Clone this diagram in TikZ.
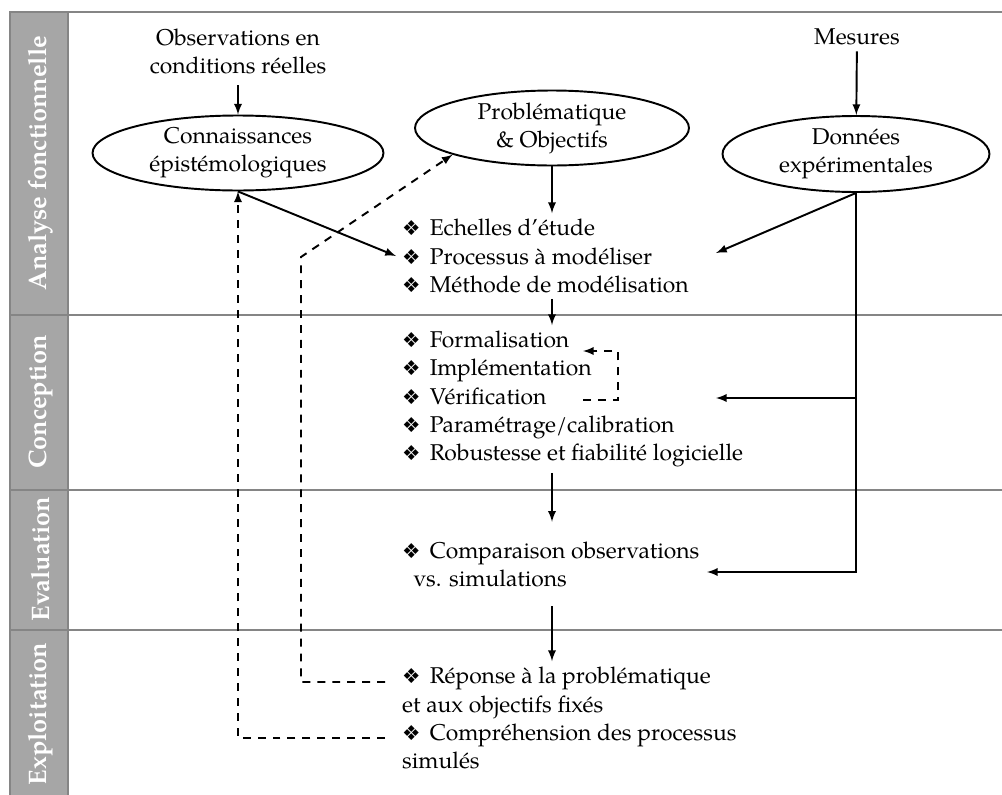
\documentclass[tikz,border=0pt]{standalone}
\usepackage{fontspec}
\setmainfont{texgyrepagella}[Extension=.otf,UprightFont=*-regular,BoldFont=*-bold,ItalicFont=*-italic,BoldItalicFont=*-bolditalic]
\newfontfamily\dingfont{DejaVu Sans}[Scale=0.9]
\usetikzlibrary{shapes.geometric}
\newcommand*{\itm}{{\dingfont ❖}\hspace{0.4em}}
\definecolor{bandgray}{HTML}{A6A6A6}
\definecolor{linegray}{HTML}{858585}

\begin{document}
\begin{tikzpicture}[x=0.02cm,y=-0.02cm,>=latex,
    font=\fontsize{13}{16}\selectfont,
    phase/.style={rotate=90,text=white,font=\fontsize{14.4}{16}\selectfont\bfseries},
    bulle/.style={ellipse,draw,line width=1.1pt,inner sep=0pt,align=center},
    liste/.style={anchor=west,align=left},
    fleche/.style={->,line width=1.1pt},
    retour/.style={->,line width=1.1pt,dash pattern=on 4.5pt off 4pt}]
    \useasboundingbox (0,0) rectangle (1002,795);

    % bandeau des phases
    \fill[bandgray] (10,12) rectangle (68,795);
    \draw[linegray,line width=1.1pt] (10,795) -- (10,12) -- (68,12) -- (68,795);
    \draw[linegray,line width=1.1pt] (68,12) -- (1002,12);
    \foreach \y in {315,490,630}
        \draw[linegray,line width=1.1pt] (10,\y) -- (1002,\y);

    \node[phase] (af) at (41,163) {Analyse fonctionnelle};
    \node[phase] (co) at (41,402) {Conception};
    \node[phase] (ev) at (41,559) {Evaluation};
    \node[phase] (ex) at (41,714) {Exploitation};

    % entrees
    \node[align=center] (obs) at (238,51) {Observations en\\conditions réelles};
    \node (mes) at (857,37) {Mesures};

    \node[bulle,minimum width=5.82cm,minimum height=1.5cm] (conn) at (238,153) {Connaissances\\épistémologiques};
    \node[bulle,minimum width=5.48cm,minimum height=1.5cm] (prob) at (552,128) {Problématique\\\& Objectifs};
    \node[bulle,minimum width=5.34cm,minimum height=1.52cm] (don) at (856,154) {Données\\expérimentales};

    % listes
    \node[liste] (etude) at (396,256) {\itm Echelles d'étude\\\itm Processus à modéliser\\\itm Méthode de modélisation};
    \node[liste] (concep) at (396,399) {\itm Formalisation\\\itm Implémentation\\\itm Vérification\\\itm Paramétrage/calibration\\\itm Robustesse et fiabilité logicielle};
    \node[liste,inner ysep=11pt] (evalu) at (396,564) {\itm Comparaison observations\\\hspace*{0.5em}vs. simulations};
    \node[liste] (exploit) at (396,718) {\itm Réponse à la problématique\\et aux objectifs fixés\\\itm Compréhension des processus\\simulés};

    \coordinate (dA) at (716,253);
    \coordinate (dB) at (716,398);
    \coordinate (dC) at (707,572);
    \coordinate (bA) at (583,400);
    \coordinate (bB) at (583,351);
    \coordinate (rA) at (385,682);
    \coordinate (rB) at (385,738);
    \coordinate (rC) at (301,257);

    % fleches
    \draw[fleche,shorten <=3pt] (obs) -- (conn);
    \draw[fleche] (mes) -- (don);
    \draw[fleche] (prob) -- (prob |- etude.north);
    \draw[fleche] (conn.south) -- (etude.west);
    \draw[fleche] (don.south) -- (dA);
    \draw[fleche] (don.south) |- (dB);
    \draw[fleche] (don.south) |- (dC);
    \draw[fleche] (prob |- etude.south) -- (prob |- concep.north);
    \draw[fleche] (prob |- concep.south) -- (prob |- evalu.north);
    \draw[fleche] (prob |- evalu.south) -- (prob |- exploit.north);

    % retours
    \draw[retour] (bA) -- ++(35,0) |- (bB);
    \draw[retour] (rA) -| (rC) -- (prob.195);
    \draw[retour] (rB) -| (conn.south);
\end{tikzpicture}
\end{document}
